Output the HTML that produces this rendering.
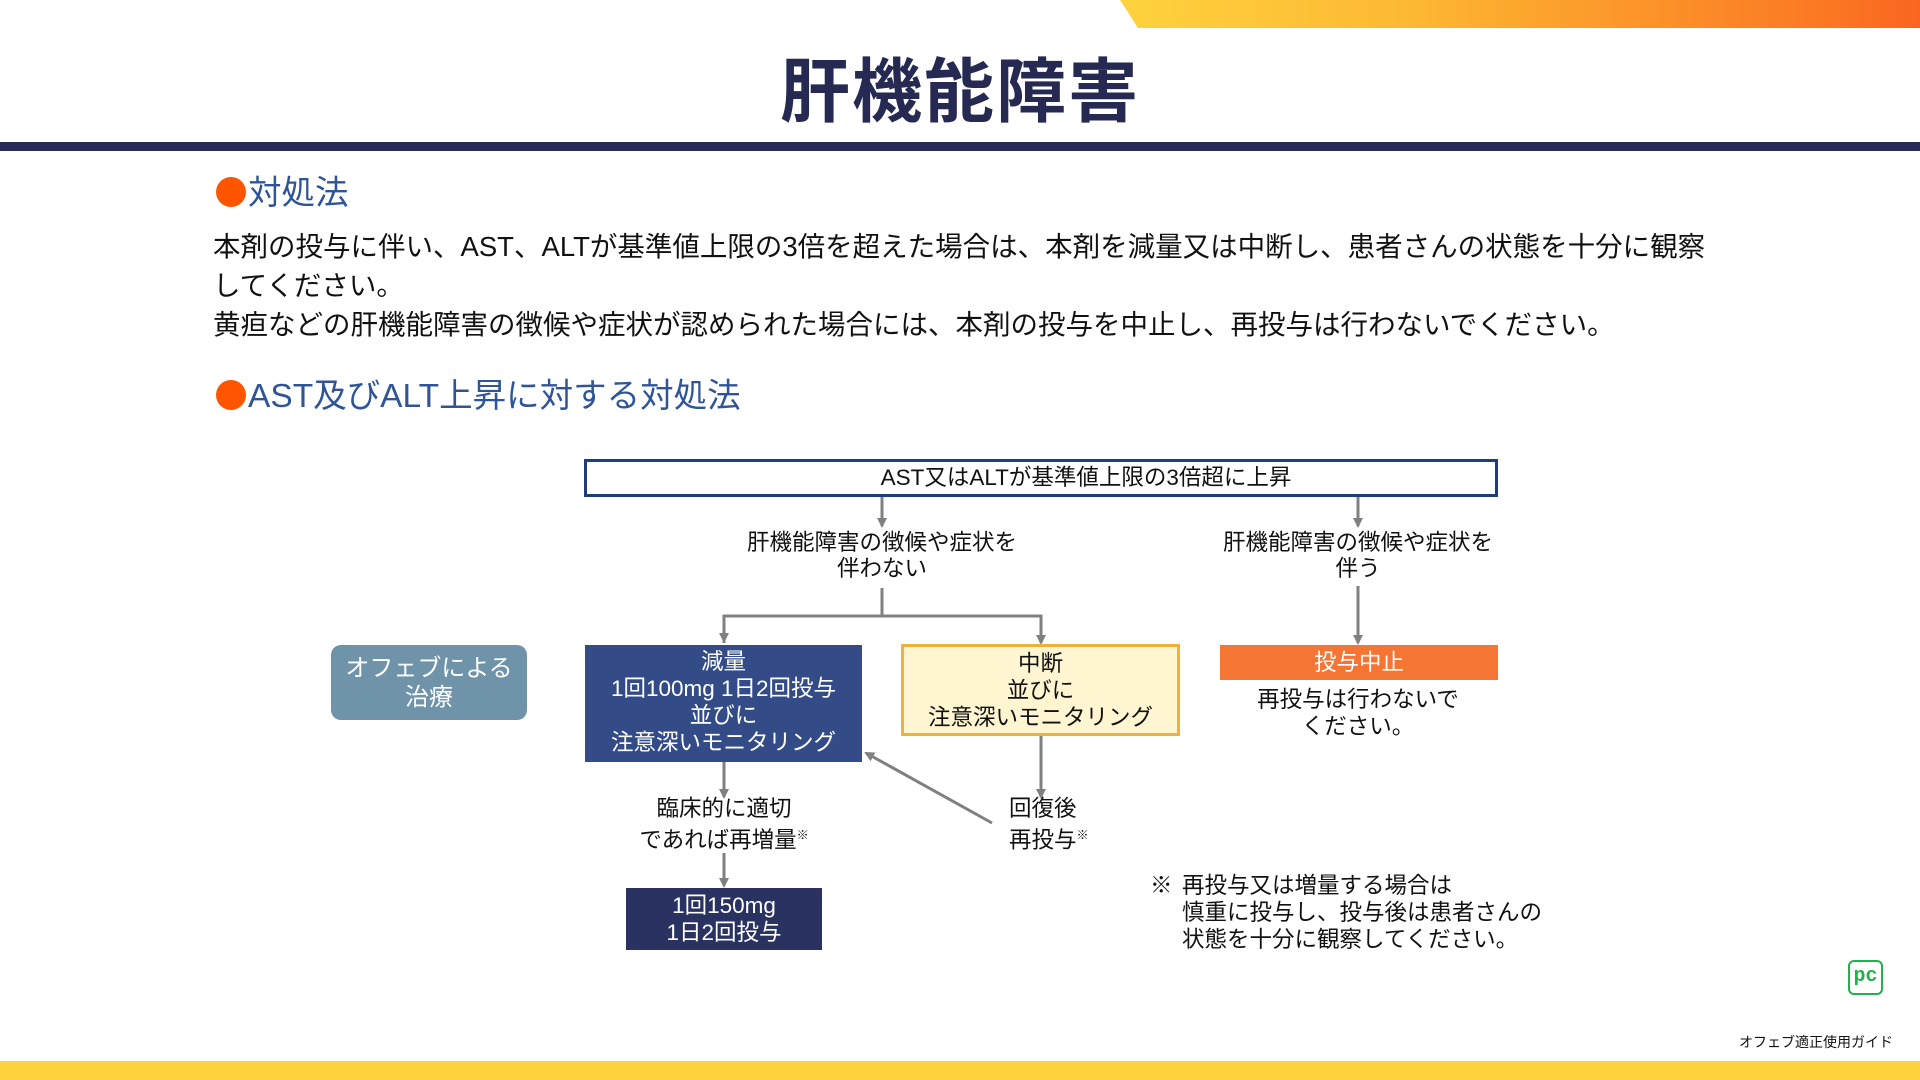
<!DOCTYPE html>
<html><head><meta charset="utf-8">
<style>
*{margin:0;padding:0;box-sizing:border-box}
body{width:1920px;height:1080px;position:relative;background:#fff;overflow:hidden;font-family:"Liberation Sans","Noto Sans CJK JP",sans-serif;color:#111}
.a{position:absolute}
.c{text-align:center;white-space:nowrap}
.t{font-size:22.5px;line-height:26px}
.b{display:inline-block;width:30px;height:30px;border-radius:50%;background:#ff5500;vertical-align:-3px;margin-right:2px}
</style></head><body>
<div class="a" style="left:1120px;top:0;width:800px;height:28px;background:linear-gradient(90deg,#fed23e,#fdb933 35%,#fb7c24 85%,#fa6620);clip-path:polygon(0 0,100% 0,100% 100%,18px 100%)"></div>
<div class="a c" style="left:0;width:1920px;top:48px;font-size:70px;line-height:88px;font-weight:bold;color:#262a52;letter-spacing:2px">肝機能障害</div>
<div class="a" style="left:0;top:142px;width:1920px;height:9px;background:#262a56"></div>

<div class="a" style="left:216px;top:173px;font-size:33.5px;line-height:42px;color:#2f5597;white-space:nowrap"><span class="b"></span>対処法</div>
<div class="a" style="left:213px;top:227px;font-size:27.5px;line-height:39px;color:#111;white-space:nowrap">本剤の投与に伴い、AST、ALTが基準値上限の3倍を超えた場合は、本剤を減量又は中断し、患者さんの状態を十分に観察<br>してください。<br>黄疸などの肝機能障害の徴候や症状が認められた場合には、本剤の投与を中止し、再投与は行わないでください。</div>
<div class="a" style="left:216px;top:376px;font-size:33.5px;line-height:42px;color:#2f5597;white-space:nowrap"><span class="b"></span>AST及びALT上昇に対する対処法</div>

<svg class="a" style="left:0;top:0" width="1920" height="1080">
<defs><marker id="ar" markerWidth="10" markerHeight="10" refX="8" refY="5" orient="auto" markerUnits="userSpaceOnUse"><path d="M0,0 L10,5 L0,10 z" fill="#808080"/></marker></defs>
<g stroke="#808080" stroke-width="3" fill="none">
<line x1="882" y1="496" x2="882" y2="526" marker-end="url(#ar)"/>
<line x1="1358" y1="496" x2="1358" y2="526" marker-end="url(#ar)"/>
<line x1="882" y1="588" x2="882" y2="616"/>
<polyline points="724,643 724,616 1041,616 1041,643" marker-end="url(#ar)"/>
<line x1="724" y1="616" x2="724" y2="641" marker-end="url(#ar)"/>
<line x1="1358" y1="586" x2="1358" y2="643" marker-end="url(#ar)"/>
<line x1="724" y1="762" x2="724" y2="797" marker-end="url(#ar)"/>
<line x1="724" y1="853" x2="724" y2="886" marker-end="url(#ar)"/>
<line x1="1041" y1="736" x2="1041" y2="797" marker-end="url(#ar)"/>
<line x1="992" y1="823" x2="866" y2="753" marker-end="url(#ar)"/>
</g>
</svg>

<div class="a c" style="left:584px;top:459px;width:914px;height:38px;border:3px solid #1f3d7a;font-size:22.5px;line-height:32px;padding-left:90px">AST又はALTが基準値上限の3倍超に上昇</div>
<div class="a c t" style="left:732px;width:300px;top:530px">肝機能障害の徴候や症状を<br>伴わない</div>
<div class="a c t" style="left:1208px;width:300px;top:530px">肝機能障害の徴候や症状を<br>伴う</div>

<div class="a c" style="left:331px;top:645px;width:196px;height:75px;background:#6f93a8;border-radius:10px;color:#fff;font-size:24px;line-height:29px;padding-top:9px">オフェブによる<br>治療</div>
<div class="a c t" style="left:585px;top:645px;width:277px;height:117px;background:#334c88;color:#fff;padding-top:3px;line-height:27px">減量<br>1回100mg 1日2回投与<br>並びに<br>注意深いモニタリング</div>
<div class="a c t" style="left:901px;top:644px;width:279px;height:92px;background:#fff5d1;border:3px solid #f2b134;padding-top:3px;line-height:27px">中断<br>並びに<br>注意深いモニタリング</div>
<div class="a c" style="left:1220px;top:645px;width:278px;height:35px;background:#f47534;color:#fff;font-size:22.5px;line-height:35px">投与中止</div>
<div class="a c t" style="left:1208px;width:300px;top:686px;line-height:27px">再投与は行わないで<br>ください。</div>

<div class="a c t" style="left:574px;width:300px;top:796px">臨床的に適切<br>であれば再増量<sup style="font-size:12px">※</sup></div>
<div class="a t" style="left:1009px;top:796px;white-space:nowrap">回復後<br>再投与<sup style="font-size:12px">※</sup></div>
<div class="a c" style="left:626px;top:888px;width:196px;height:62px;background:#2a3261;color:#fff;font-size:22.5px;line-height:27px;padding-top:4px">1回150mg<br>1日2回投与</div>

<div class="a t" style="left:1150px;top:872px;line-height:27px">※</div>
<div class="a t" style="left:1182px;top:872px;line-height:27px;white-space:nowrap">再投与又は増量する場合は<br>慎重に投与し、投与後は患者さんの<br>状態を十分に観察してください。</div>

<div class="a" style="left:1848px;top:960px;width:35px;height:35px;border:2px solid #22b24c;border-radius:6px;color:#22b24c;font-weight:bold;font-size:20px;line-height:30px;text-align:center;font-family:'Liberation Mono',monospace">pc</div>
<div class="a" style="right:27px;top:1033px;font-size:14px;line-height:18px;color:#111">オフェブ適正使用ガイド</div>
<div class="a" style="left:0;top:1061px;width:1920px;height:19px;background:#fdd23a"></div>
</body></html>
